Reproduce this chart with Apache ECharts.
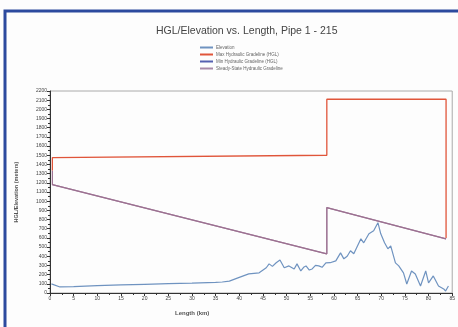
<!DOCTYPE html>
<html><head><meta charset="utf-8">
<script src="https://cdn.jsdelivr.net/npm/echarts@6/dist/echarts.min.js"></script>
<style>html,body{margin:0;padding:0;background:#fff}#c{width:458px;height:327px}</style>
</head><body><div id="c"></div>
<script>
const titleText = "HGL/Elevation vs. Length, Pipe 1 - 215";
const seriesNames = ["Elevation", "Max Hydraulic Gradeline (HGL)", "Min Hydraulic Gradeline (HGL)", "Steady-State Hydraulic Gradeline"];
const elevKm = [0.3,2.1,5,10,15,20,25,30,35,36.4,37.9,40,42,44.2,45.7,46.3,47,47.8,48.6,49.5,50.5,51.6,52.2,53,53.6,54.1,54.8,55.4,56.1,56.8,57.5,58.3,59.2,60.4,61.4,62.1,62.8,63.5,64.2,65.7,66.3,67.4,68.4,69.3,69.9,70.7,71.4,72,73,73.7,74.7,75.4,76.4,77.2,78.3,79.4,80,81,82.1,83.2,83.6,84.2];
const elevM  = [100,66,70,80,88,95,102,108,115,120,130,170,208,220,275,317,290,330,360,275,295,262,317,240,280,295,250,262,300,295,280,328,330,350,437,372,400,460,427,590,547,645,678,766,645,547,481,514,328,295,219,98,240,208,77,240,110,186,77,44,22,77];
const maxKm = [0.5,0.5,58.5,58.5,83.7,83.7];
const maxM  = [1335,1475,1500,2110,2110,600];
const minKm = [0.5,0.5,58.5,58.5,83.7];
const minM  = [1335,1180,427,930,590];
const steadyKm = [0.5,58.5,58.5,83.7];
const steadyM  = [1180,427,930,590];
const xTicks = {min:0,max:85,step:5};
const yTicks = {min:0,max:2200,step:100};

const zip = (a,b)=>a.map((v,i)=>[v,b[i]]);
const colors = ["#6f93c0","#e0553a","#5560b0","#a88aa8"];
const chart = echarts.init(document.getElementById('c'));
const axisCommon = {
  axisLine:{show:true,lineStyle:{color:'#333',width:1}},
  axisTick:{show:true,length:3,lineStyle:{color:'#333'}},
  minorTick:{show:true,splitNumber:2,length:2,lineStyle:{color:'#333'}},
  splitLine:{show:false},
  axisLabel:{fontSize:5,color:'#444',margin:3,fontFamily:'Liberation Sans',formatter:v=>String(v)}
};
chart.setOption({
  backgroundColor:'#fdfdfd',
  animation:false,
  title:{text:titleText,left:151,top:21,textStyle:{fontSize:10.5,fontWeight:'normal',color:'#444',fontFamily:'Liberation Sans'}},
  legend:{orient:'vertical',left:195,top:40,itemWidth:13,itemHeight:2,itemGap:2,icon:'rect',
    textStyle:{fontSize:4.5,color:'#666',fontFamily:'Liberation Sans',padding:[0,0,0,-2]},data:seriesNames},
  grid:{left:50,right:4,top:91,bottom:34,show:true,borderColor:'#aaa',borderWidth:1,backgroundColor:'transparent'},
  xAxis:Object.assign({type:'value',min:xTicks.min,max:xTicks.max,interval:xTicks.step},axisCommon),
  yAxis:Object.assign({type:'value',min:yTicks.min,max:yTicks.max,interval:yTicks.step,
    name:'HGL/Elevation (meters)',nameLocation:'middle',nameGap:31,
    nameTextStyle:{fontSize:5.5,fontWeight:'bold',color:'#555',fontFamily:'Liberation Sans'}},axisCommon),
  graphic:[
    {type:'polyline',shape:{points:[[5,327],[5,11],[458,11]]},style:{stroke:'#2c4a9e',lineWidth:3,fill:null}},
    {type:'text',left:175,top:310,style:{text:'Length (km)',fontSize:6,fontWeight:'bold',fill:'#555',fontFamily:'Liberation Sans'}}
  ],
  series:[
    {name:seriesNames[3],type:'line',data:zip(steadyKm,steadyM),showSymbol:false,lineStyle:{color:colors[3],width:1.2},itemStyle:{color:colors[3]},z:2},
    {name:seriesNames[2],type:'line',data:zip(minKm,minM),showSymbol:false,lineStyle:{color:'#9c7090',width:1.2},itemStyle:{color:colors[2]},z:3},
    {name:seriesNames[1],type:'line',data:zip(maxKm,maxM),showSymbol:false,lineStyle:{color:colors[1],width:1.3},itemStyle:{color:colors[1]},z:4},
    {name:seriesNames[0],type:'line',data:zip(elevKm,elevM),showSymbol:false,lineStyle:{color:colors[0],width:1.2},itemStyle:{color:colors[0]},z:5}
  ]
});
</script></body></html>
